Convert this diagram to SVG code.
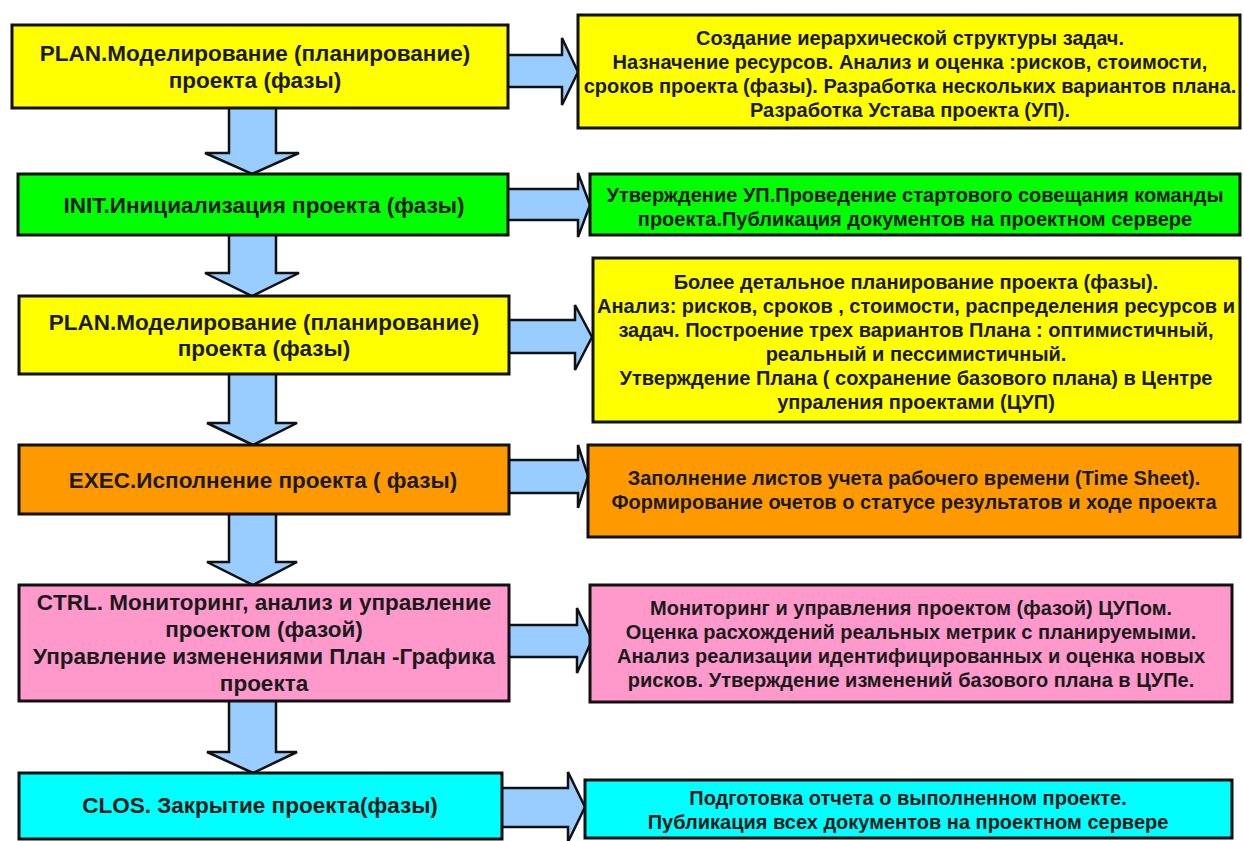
<svg xmlns="http://www.w3.org/2000/svg" width="1244" height="841" viewBox="0 0 1244 841">
<style>
.box{stroke:#111;stroke-width:3}
.y{fill:#FFFF00}.g{fill:#00FF00}.o{fill:#FF9900}.p{fill:#FF99CC}.c{fill:#00FFFF}
.arr{fill:#99CCFF;stroke:#111;stroke-width:2.5;stroke-linejoin:miter}
text{font-family:"Liberation Sans",Arial,sans-serif;font-weight:bold;fill:#1a1a1a;text-anchor:middle}
.l{font-size:22.5px}
.r{font-size:20px}
</style>
<rect width="1244" height="841" fill="#fff"/>
<g id="connectors">
<path class="arr" d="M229,108 V153 H205 L252,174 L299,153 H276 V108"/>
<path class="arr" d="M229,235 V273 H205 L252,296 L299,273 H276 V235"/>
<path class="arr" d="M229,374 V423 H207 L253,445 L297,423 H276 V374"/>
<path class="arr" d="M229,514 V562 H207 L253,585 L297,562 H276 V514"/>
<path class="arr" d="M229,701 V752 H207 L253,773 L297,752 H276 V701"/>
<path class="arr" d="M508,55 H562 V38 L578,72 L562,105 V87 H508"/>
<path class="arr" d="M508,189 H578 V173 L590,205 L578,237 V220 H508"/>
<path class="arr" d="M509,320 H575 V305 L592,337 L575,370 V353 H509"/>
<path class="arr" d="M509,460 H578 V445 L588,476 L578,508 V493 H509"/>
<path class="arr" d="M509,625 H577 V608 L592,640 L577,673 V657 H509"/>
<path class="arr" d="M502,788 H568 V772 L585,807 L568,842 V827 H502"/>
</g>
<g id="n1"><rect class="box y" x="12" y="25" width="496" height="83"/>
<text class="l" x="255" y="61">PLAN.Моделирование (планирование)</text>
<text class="l" x="255" y="88">проекта (фазы)</text></g>
<g id="n2"><rect class="box g" x="18" y="174" width="490" height="61"/>
<text class="l" x="264" y="213">INIT.Инициализация проекта (фазы)</text></g>
<g id="n3"><rect class="box y" x="19" y="296" width="490" height="78"/>
<text class="l" x="264" y="330">PLAN.Моделирование (планирование)</text>
<text class="l" x="264" y="356">проекта (фазы)</text></g>
<g id="n4"><rect class="box o" x="19" y="445" width="490" height="69"/>
<text class="l" x="263" y="488">EXEC.Исполнение проекта ( фазы)</text></g>
<g id="n5"><rect class="box p" x="19" y="585" width="490" height="116"/>
<text class="l" x="264" y="610">CTRL. Мониторинг, анализ и управление</text>
<text class="l" x="264" y="637">проектом (фазой)</text>
<text class="l" x="264" y="664">Управление изменениями План -Графика</text>
<text class="l" x="264" y="691">проекта</text></g>
<g id="n6"><rect class="box c" x="19" y="773" width="483" height="66"/>
<text class="l" x="260" y="813">CLOS. Закрытие проекта(фазы)</text></g>
<g id="r1"><rect class="box y" x="578" y="15" width="662" height="113"/>
<text class="r" x="910" y="45">Создание иерархической структуры задач.</text>
<text class="r" x="910" y="69">Назначение ресурсов. Анализ и оценка :рисков, стоимости,</text>
<text class="r" x="910" y="93">сроков проекта (фазы). Разработка нескольких вариантов плана.</text>
<text class="r" x="910" y="117">Разработка Устава проекта (УП).</text></g>
<g id="r2"><rect class="box g" x="590" y="174" width="650" height="61"/>
<text class="r" x="915" y="202">Утверждение УП.Проведение стартового совещания команды</text>
<text class="r" x="915" y="226">проекта.Публикация документов на проектном сервере</text></g>
<g id="r3"><rect class="box y" x="593" y="258" width="647" height="164"/>
<text class="r" x="916" y="289">Более детальное планирование проекта (фазы).</text>
<text class="r" x="916" y="313">Анализ: рисков, сроков , стоимости, распределения ресурсов и</text>
<text class="r" x="916" y="337">задач. Построение трех вариантов Плана : оптимистичный,</text>
<text class="r" x="916" y="361">реальный и пессимистичный.</text>
<text class="r" x="916" y="385">Утверждение Плана ( сохранение базового плана) в Центре</text>
<text class="r" x="916" y="409">упраления проектами  (ЦУП)</text></g>
<g id="r4"><rect class="box o" x="588" y="445" width="652" height="92"/>
<text class="r" x="914" y="485">Заполнение листов учета рабочего времени (Time Sheet).</text>
<text class="r" x="914" y="509">Формирование очетов о статусе результатов и ходе проекта</text></g>
<g id="r5"><rect class="box p" x="590" y="585" width="642" height="117"/>
<text class="r" x="911" y="615">Мониторинг и управления проектом (фазой) ЦУПом.</text>
<text class="r" x="911" y="639">Оценка расхождений реальных метрик с планируемыми.</text>
<text class="r" x="911" y="663">Анализ реализации идентифицированных и оценка новых</text>
<text class="r" x="911" y="687">рисков. Утверждение изменений  базового плана в ЦУПе.</text></g>
<g id="r6"><rect class="box c" x="585" y="780" width="647" height="58"/>
<text class="r" x="908" y="805">Подготовка отчета о выполненном проекте.</text>
<text class="r" x="908" y="829">Публикация всех документов на проектном сервере</text></g>
</svg>
